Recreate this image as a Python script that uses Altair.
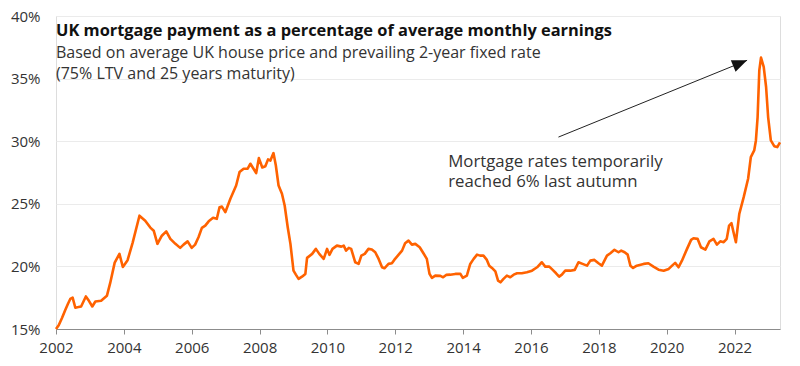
import altair as alt
import pandas as pd

years = [
    2002.00, 2002.08, 2002.18, 2002.27, 2002.35, 2002.42, 2002.49, 2002.57, 2002.66, 2002.74,
    2002.88, 2002.97, 2003.07, 2003.16, 2003.33, 2003.50, 2003.60, 2003.73, 2003.87, 2003.97,
    2004.11, 2004.26, 2004.46, 2004.63, 2004.78, 2004.88, 2004.99, 2005.12, 2005.25, 2005.37,
    2005.52, 2005.66, 2005.76, 2005.88, 2006.00, 2006.10, 2006.20, 2006.30, 2006.40, 2006.50,
    2006.63, 2006.74, 2006.82, 2006.89, 2006.99, 2007.14, 2007.31, 2007.41, 2007.53, 2007.65,
    2007.73, 2007.90, 2007.98, 2008.08, 2008.17, 2008.25, 2008.32, 2008.41, 2008.48, 2008.56,
    2008.66, 2008.74, 2008.83, 2008.91, 2009.00, 2009.07, 2009.15, 2009.25, 2009.35, 2009.40,
    2009.55, 2009.66, 2009.76, 2009.89, 2009.99, 2010.06, 2010.15, 2010.28, 2010.41, 2010.48,
    2010.55, 2010.63, 2010.70, 2010.82, 2010.92, 2011.00, 2011.10, 2011.21, 2011.31, 2011.41,
    2011.51, 2011.61, 2011.68, 2011.80, 2011.90, 2011.97, 2012.10, 2012.20, 2012.29, 2012.39,
    2012.49, 2012.59, 2012.72, 2012.83, 2012.93, 2013.01, 2013.08, 2013.18, 2013.33, 2013.41,
    2013.50, 2013.62, 2013.77, 2013.92, 2013.99, 2014.11, 2014.21, 2014.31, 2014.41, 2014.50,
    2014.60, 2014.70, 2014.77, 2014.85, 2014.95, 2015.03, 2015.10, 2015.19, 2015.29, 2015.39,
    2015.49, 2015.59, 2015.73, 2015.88, 2016.03, 2016.18, 2016.32, 2016.42, 2016.54, 2016.64,
    2016.74, 2016.83, 2016.91, 2017.01, 2017.16, 2017.29, 2017.40, 2017.52, 2017.65, 2017.75,
    2017.87, 2017.99, 2018.09, 2018.24, 2018.34, 2018.46, 2018.58, 2018.66, 2018.76, 2018.85,
    2018.93, 2019.01, 2019.12, 2019.32, 2019.46, 2019.61, 2019.76, 2019.91, 2020.06, 2020.16,
    2020.25, 2020.35, 2020.45, 2020.60, 2020.72, 2020.79, 2020.91, 2021.01, 2021.14, 2021.26,
    2021.38, 2021.48, 2021.58, 2021.68, 2021.77, 2021.84, 2021.91, 2021.97, 2022.04, 2022.14,
    2022.27, 2022.40, 2022.48, 2022.58, 2022.63, 2022.68, 2022.73, 2022.78, 2022.86, 2022.93,
    2022.99, 2023.07, 2023.17, 2023.26, 2023.34,
]
payment_pct = [
    15.0, 15.3, 15.9, 16.5, 17.0, 17.4, 17.5, 16.7, 16.75, 16.8,
    17.6, 17.25, 16.8, 17.2, 17.25, 17.65, 18.7, 20.3, 21.0, 19.95,
    20.5, 21.9, 24.05, 23.65, 23.1, 22.85, 21.8, 22.45, 22.8, 22.2,
    21.8, 21.48, 21.74, 22.0, 21.48, 21.74, 22.33, 23.08, 23.26, 23.6,
    23.88, 23.8, 24.73, 24.78, 24.33, 25.4, 26.46, 27.53, 27.8, 27.8,
    28.2, 27.45, 28.65, 27.9, 28.0, 28.55, 28.45, 29.05, 28.06, 26.46,
    25.8, 24.86, 23.13, 21.8, 19.66, 19.34, 19.0, 19.18, 19.4, 20.68,
    21.0, 21.4, 21.0, 20.6, 21.4, 20.92, 21.4, 21.66, 21.58, 21.66,
    21.26, 21.48, 21.4, 20.33, 20.2, 20.86, 21.0, 21.4, 21.35, 21.13,
    20.6, 19.93, 19.85, 20.2, 20.25, 20.52, 20.94, 21.26, 21.85, 22.06,
    21.74, 21.8, 21.53, 21.05, 20.6, 19.4, 19.08, 19.26, 19.24, 19.13,
    19.32, 19.34, 19.4, 19.4, 19.08, 19.26, 20.2, 20.6, 20.94, 20.86,
    20.86, 20.52, 20.06, 19.88, 19.6, 18.86, 18.73, 19.0, 19.26, 19.13,
    19.34, 19.45, 19.45, 19.53, 19.66, 19.93, 20.33, 19.98, 19.98, 19.72,
    19.45, 19.18, 19.34, 19.66, 19.66, 19.72, 20.33, 20.2, 20.06, 20.46,
    20.52, 20.25, 20.06, 20.86, 21.05, 21.32, 21.13, 21.26, 21.13, 20.94,
    20.06, 19.88, 20.06, 20.2, 20.25, 19.98, 19.74, 19.66, 19.8, 20.06,
    20.28, 19.93, 20.46, 21.4, 22.12, 22.25, 22.2, 21.53, 21.34, 22.0,
    22.2, 21.74, 22.0, 21.93, 22.2, 23.26, 23.45, 22.73, 21.93, 24.2,
    25.53, 27.0, 28.73, 29.26, 30.06, 31.93, 35.66, 36.68, 35.93, 34.33,
    31.93, 30.06, 29.6, 29.53, 29.9,
]

x_ticks = [2002, 2004, 2006, 2008, 2010, 2012, 2014, 2016, 2018, 2020, 2022]
y_ticks = [15, 20, 25, 30, 35, 40]

title_text = "UK mortgage payment as a percentage of average monthly earnings"
subtitle_line1 = "Based on average UK house price and prevailing 2-year fixed rate"
subtitle_line2 = "(75% LTV and 25 years maturity)"
note_lines = ["Mortgage rates temporarily", "reached 6% last autumn"]
note_x = [2013.56, 2013.56]
note_y = [27.93, 26.33]

arrow_start = (2016.81, 30.33)
arrow_end = (2022.37, 36.46)

FONT = "Open Sans"
ORANGE = "#FF6200"
TEXT = "#333333"

df = pd.DataFrame({"year": years, "pct": payment_pct})

xscale = alt.Scale(domain=[2002, 2023.34], nice=False, zero=False)
yscale = alt.Scale(domain=[15, 40], nice=False, zero=False)

base = alt.Chart(df)

line = base.mark_line(color=ORANGE, strokeWidth=2.6, strokeJoin="round").encode(
    x=alt.X("year:Q", scale=xscale,
            axis=alt.Axis(values=x_ticks, format="d", title=None, grid=False,
                          domainColor="#8c8c8c", tickColor="#8c8c8c", tickSize=5,
                          labelFont=FONT, labelFontSize=15, labelColor=TEXT,
                          labelPadding=6, labelFlush=False)),
    y=alt.Y("pct:Q", scale=yscale,
            axis=alt.Axis(values=y_ticks, title=None, labelExpr="datum.value + '%'",
                          domain=False, ticks=False, gridColor="#ebebeb",
                          labelFont=FONT, labelFontSize=15, labelColor=TEXT,
                          labelPadding=16)),
)

note_df = pd.DataFrame({"x": note_x, "y": note_y, "t": note_lines})
note = alt.Chart(note_df).mark_text(
    align="left", baseline="alphabetic", font=FONT, fontSize=16.8, color=TEXT
).encode(x=alt.X("x:Q", scale=xscale), y=alt.Y("y:Q", scale=yscale), text="t:N")

arrow_df = pd.DataFrame({"x": [arrow_start[0]], "y": [arrow_start[1]],
                         "x2": [arrow_end[0]], "y2": [arrow_end[1]]})
arrow_line = alt.Chart(arrow_df).mark_rule(color="#222222", strokeWidth=1).encode(
    x=alt.X("x:Q", scale=xscale), y=alt.Y("y:Q", scale=yscale), x2="x2:Q", y2="y2:Q")
arrow_head = alt.Chart(arrow_df).mark_point(
    shape="M0,0 L-1,-0.42 L-1,0.42 Z", size=900, filled=True, opacity=1,
    color="#111111", angle=337.85, strokeWidth=0
).encode(x=alt.X("x2:Q", scale=xscale), y=alt.Y("y2:Q", scale=yscale))

title_df = pd.DataFrame({"t": [title_text]})
title_mark = alt.Chart(title_df).mark_text(
    align="left", baseline="alphabetic", font=FONT, fontSize=16.4, fontWeight="bold",
    color="#111111"
).encode(x=alt.value(0), y=alt.value(20), text="t:N")

sub1_df = pd.DataFrame({"t": [subtitle_line1]})
sub1_mark = alt.Chart(sub1_df).mark_text(
    align="left", baseline="alphabetic", font=FONT, fontSize=16, color=TEXT
).encode(x=alt.value(0), y=alt.value(42), text="t:N")

sub2_df = pd.DataFrame({"t": [subtitle_line2]})
sub2_mark = alt.Chart(sub2_df).mark_text(
    align="left", baseline="alphabetic", font=FONT, fontSize=16, color=TEXT
).encode(x=alt.value(0), y=alt.value(63), text="t:N")

chart = alt.layer(line, note, arrow_line, arrow_head, title_mark, sub1_mark, sub2_mark).properties(
    width=724, height=313,
    autosize=alt.AutoSizeParams(type="none"),
    padding={"left": 48, "top": 8, "right": 12, "bottom": 28},
).configure_view(stroke=None).configure(background="white")

chart.save("out.html", embed_options={"renderer": "svg", "actions": False})
